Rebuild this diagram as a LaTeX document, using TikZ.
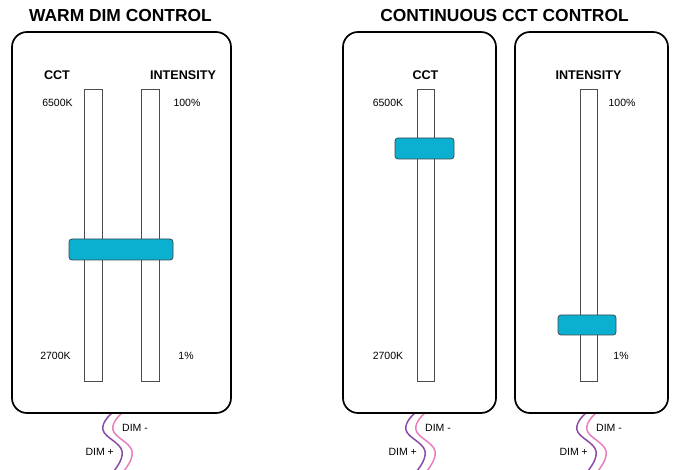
\documentclass[tikz,border=0pt]{standalone}
\usepackage{fontspec}
\setmainfont{Liberation Sans}
\definecolor{knobc}{HTML}{0BAFD0}
\definecolor{knobd}{HTML}{3A4A50}
\definecolor{wirep}{HTML}{8A4BA6}
\definecolor{wirek}{HTML}{E97EBF}
\begin{document}
\begin{tikzpicture}[x=1pt,y=-1pt,
  panel/.style={draw=black,line width=1.7pt,rounded corners=15pt},
  track/.style={draw=black!70,line width=0.8pt,fill=white},
  knob/.style={draw=knobd,line width=0.8pt,fill=knobc,rounded corners=3pt},
  title/.style={font=\fontsize{17.4}{19}\selectfont\bfseries,inner sep=0pt},
  head/.style={font=\fontsize{12.6}{14}\selectfont\bfseries,inner sep=0pt},
  small/.style={font=\fontsize{10.5}{12}\selectfont,inner sep=0pt},
  wire/.style={line width=1.5pt}
]
\useasboundingbox (0,0) rectangle (673,470);
% titles
\node[title] (t1) at (120.5,16) {WARM DIM CONTROL};
\node[title] (t2) at (504.5,16) {CONTINUOUS CCT CONTROL};
% wires (drawn first, beneath panels)
\foreach \P/\n in {112/a,415/b,586/c}{
  \draw[wire,wirep] plot[smooth,tension=0.75] coordinates {(\P,413) (\P-9,430) (\P+10,451) (\P+1,472)};
  \draw[wire,wirek] plot[smooth,tension=0.75] coordinates {(\P+10,413) (\P+1,430) (\P+20,451) (\P+11,472)};
  \node[small,anchor=west] (dm\n) at (\P+10,428) {DIM -};
  \node[small,anchor=east] (dp\n) at (\P+2,452) {DIM +};
}
% panels
\draw[panel,fill=white] (12,32) rectangle (231,413);
\draw[panel,fill=white] (343,32) rectangle (496,413);
\draw[panel,fill=white] (515,32) rectangle (668,413);
% left panel
\node[head] (cctL) at (57,75) {CCT};
\node[head] (intL) at (183,75) {INTENSITY};
\node[small] (k65L) at (57.5,103) {6500K};
\node[small] (k27L) at (55.5,356) {2700K};
\node[small] (p100L) at (187,103) {100\%};
\node[small] (p1L) at (186,356) {1\%};
\draw[track] (84,89) rectangle (102,381);
\draw[track] (141,89) rectangle (159,381);
\draw[knob] (69,239) rectangle (173,260);
% middle panel
\node[head] (cctM) at (425.5,75) {CCT};
\node[small] (k65M) at (388,103) {6500K};
\node[small] (k27M) at (388,356) {2700K};
\draw[track] (417,89) rectangle (434,381);
\draw[knob] (395,138) rectangle (454,159);
% right panel
\node[head] (intR) at (588.5,75) {INTENSITY};
\node[small] (p100R) at (622,103) {100\%};
\node[small] (p1R) at (621,356) {1\%};
\draw[track] (580,89) rectangle (597,381);
\draw[knob] (558,315) rectangle (616,335);
\end{tikzpicture}
\end{document}
